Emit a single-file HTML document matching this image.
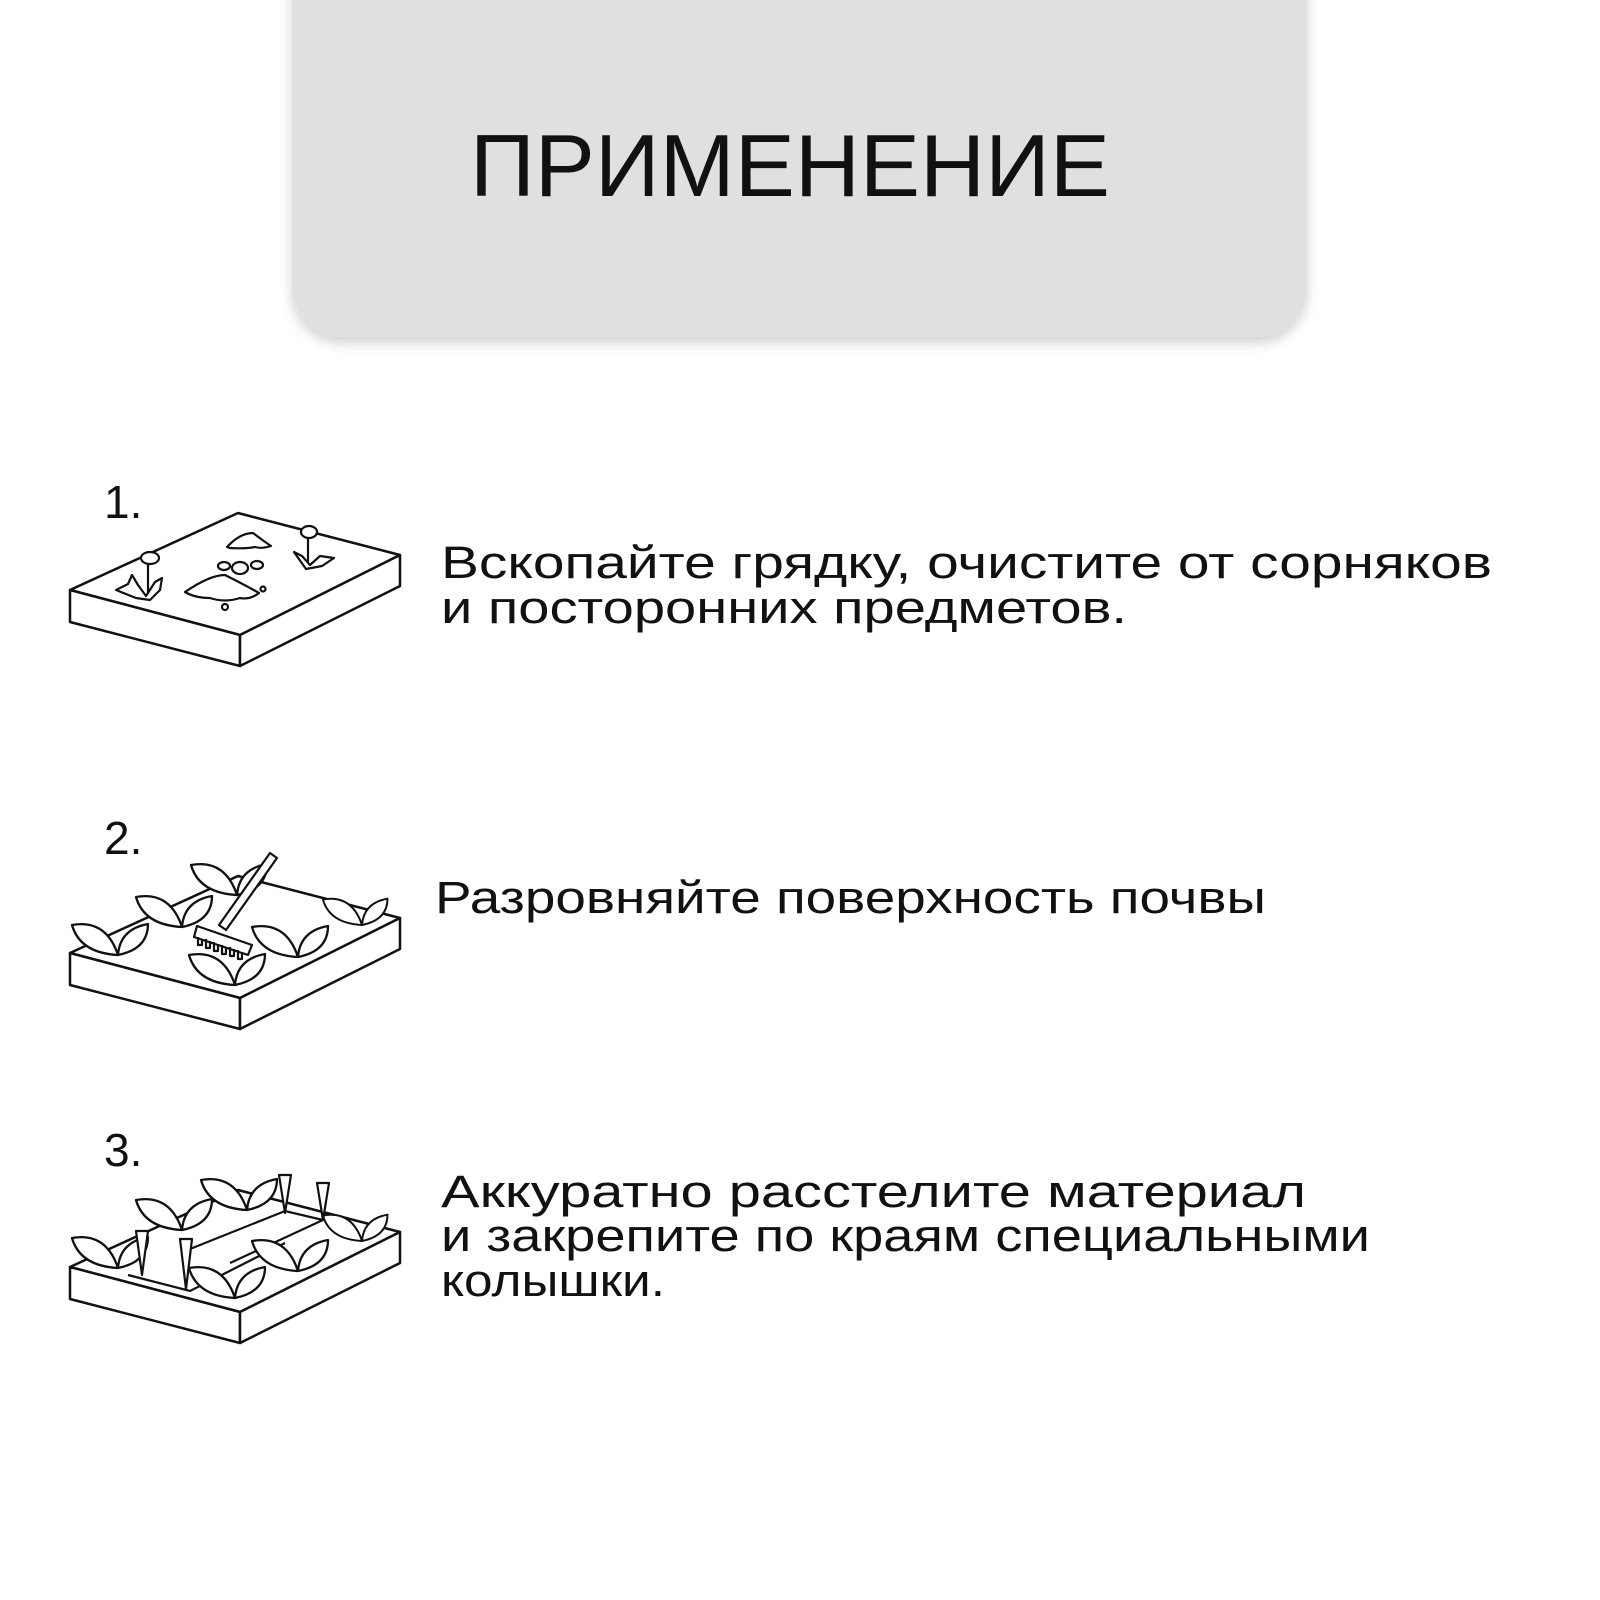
<!DOCTYPE html>
<html><head><meta charset="utf-8"><style>
html,body{margin:0;padding:0;background:#fff;}
svg{display:block;}
text{font-family:"Liberation Sans",sans-serif;fill:#111;}
</style></head><body>
<svg width="1600" height="1600" viewBox="0 0 1600 1600" xmlns="http://www.w3.org/2000/svg">
<defs>
<filter id="sh" x="-10%" y="-10%" width="120%" height="130%"><feDropShadow dx="0" dy="6" stdDeviation="6" flood-color="#000" flood-opacity="0.18"/></filter>
<g id="box" fill="#fff" stroke="#111" stroke-width="2.5" stroke-linejoin="round">
<path d="M70,590 L238,513 L400,555 L240,635 Z"/>
<path d="M70,590 L240,635 L240,666 L70,622 Z"/>
<path d="M240,635 L400,555 L400,586 L240,666 Z"/>
</g>
<g id="leaf" fill="#fff" stroke="#111" stroke-width="2.3" stroke-linejoin="round">
<path d="M0,0 Q-38,-2 -46,-30 Q-12,-36 0,0 Z"/>
<path d="M0,0 Q2,-26 30,-31 Q30,-6 0,0 Z"/>
</g>
</defs>
<rect x="292" y="-60" width="1015" height="397" rx="50" fill="#e0e0e0" filter="url(#sh)"/>
<text x="470" y="196" font-size="88" textLength="640" lengthAdjust="spacingAndGlyphs">ПРИМЕНЕНИЕ</text>

<!-- step 1 -->
<text x="104" y="518" font-size="46">1.</text>
<use href="#box"/>
<g fill="#fff" stroke="#111" stroke-width="2.2" stroke-linejoin="round">
<path d="M148,600 L148,562"/><ellipse cx="150" cy="558" rx="9" ry="6"/>
<path d="M116,590 L128,584 L132,575 L138,585 L146,596 L155,582 L162,578 L160,590 L150,600 L136,598 Z"/>
<path d="M308,565 L308,537"/><ellipse cx="309" cy="532" rx="8" ry="6"/>
<path d="M294,552 L302,556 L310,565 L320,556 L334,558 L322,566 L306,569 Z"/>
<path d="M227,547 Q240,533 253,533 Q262,540 271,546 Q262,549 255,547 Q245,549 230,548 Z"/>
<path d="M185,592 Q210,575 225,575 Q245,585 259,593 Q250,600 240,598 Q225,603 210,598 Q195,598 185,592 Z"/>
<ellipse cx="224" cy="566" rx="6" ry="4"/><ellipse cx="240" cy="568" rx="8" ry="6"/><ellipse cx="257" cy="565" rx="6" ry="4"/>
<circle cx="263" cy="589" r="2.5"/><circle cx="225" cy="607" r="3"/>
</g>
<text x="441" y="578" font-size="45" textLength="1051" lengthAdjust="spacingAndGlyphs">Вскопайте грядку, очистите от сорняков</text>
<text x="441" y="623" font-size="45" textLength="686" lengthAdjust="spacingAndGlyphs">и посторонних предметов.</text>

<!-- step 2 -->
<text x="104" y="854" font-size="46">2.</text>
<g transform="translate(0,5)">
<use href="#box" transform="translate(0,358)"/>
<use href="#leaf" transform="translate(237,890)"/>
<use href="#leaf" transform="translate(182,922)"/>
<use href="#leaf" transform="translate(118,950)"/>
<use href="#leaf" transform="translate(362,920) scale(0.85)"/>
<use href="#leaf" transform="translate(298,952)"/>
<g fill="#fff" stroke="#111" stroke-width="2.2" stroke-linejoin="round">
<path d="M270,848 L277,853 L226,925 L219,920 Z"/>
<path d="M197,921 L252,940 L248,950 L194,932 Z"/>
<path d="M198,932 l0,8 l4,0 l0,-6 M206,934 l0,9 l4,0 l0,-7 M214,937 l0,9 l4,0 l0,-7 M222,940 l0,9 l4,0 l0,-7 M230,942 l0,9 l4,0 l0,-7 M238,945 l0,9 l4,0 l0,-7" fill="none"/>
</g>
<use href="#leaf" transform="translate(235,980)"/>
</g>
<text x="435" y="913" font-size="45" textLength="831" lengthAdjust="spacingAndGlyphs">Разровняйте поверхность почвы</text>

<!-- step 3 -->
<text x="104" y="1166" font-size="46">3.</text>
<g transform="translate(0,13)">
<use href="#box" transform="translate(0,664)"/>
<g fill="none" stroke="#111" stroke-width="2.2">
<path d="M128,1262 L190,1278 L285,1230"/>
<path d="M190,1236 L285,1198 L323,1207 L230,1250"/>
</g>
<use href="#leaf" transform="translate(247,1197)"/>
<use href="#leaf" transform="translate(182,1217)"/>
<use href="#leaf" transform="translate(118,1255)"/>
<use href="#leaf" transform="translate(362,1228) scale(0.85)"/>
<use href="#leaf" transform="translate(298,1258)"/>
<use href="#leaf" transform="translate(235,1285)"/>
<g fill="#fff" stroke="#111" stroke-width="2.2" stroke-linejoin="round">
<path d="M279,1162 L291,1162 L285,1200 Z"/>
<path d="M317,1170 L329,1170 L323,1207 Z"/>
<path d="M136,1218 L148,1218 L142,1262 Z"/>
<path d="M180,1226 L192,1226 L186,1276 Z"/>
</g>
</g>
<text x="441" y="1207" font-size="45" textLength="865" lengthAdjust="spacingAndGlyphs">Аккуратно расстелите материал</text>
<text x="441" y="1251" font-size="45" textLength="929" lengthAdjust="spacingAndGlyphs">и закрепите по краям специальными</text>
<text x="441" y="1296" font-size="45" textLength="224" lengthAdjust="spacingAndGlyphs">колышки.</text>
</svg>
</body></html>
